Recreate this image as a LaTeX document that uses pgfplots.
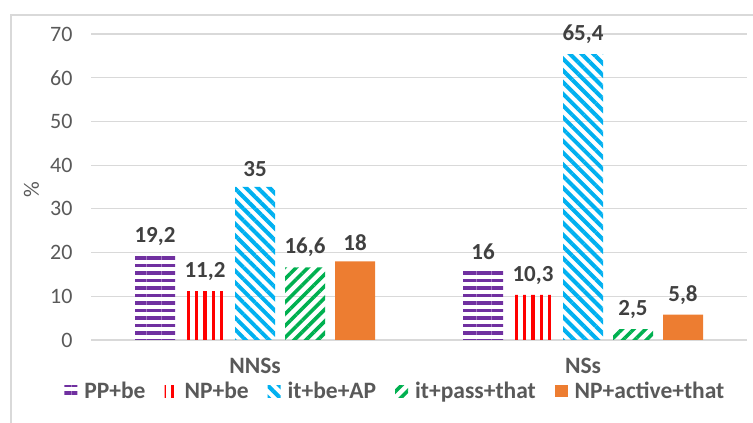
\documentclass[border=0pt]{standalone}
\usepackage{fontspec}
\setmainfont{Carlito}
\usepackage{pgfplots}
\pgfplotsset{compat=1.18}
\usetikzlibrary{patterns.meta}
\definecolor{ppurple}{HTML}{7030A0}
\definecolor{pred}{HTML}{FF0000}
\definecolor{pblue}{HTML}{00B0F0}
\definecolor{pgreen}{HTML}{00B050}
\definecolor{porange}{HTML}{ED7D31}
\definecolor{tickgray}{HTML}{595959}
\definecolor{labgray}{HTML}{404040}
\definecolor{gridgray}{HTML}{D9D9D9}
\begin{document}
\begin{tikzpicture}
\path[use as bounding box] (0,0) rectangle (753bp,423bp);
\draw[gridgray, line width=1.5bp] (11bp,-5bp) -- (11bp,408bp) -- (760bp,408bp);
\begin{axis}[
  at={(91bp,83bp)}, anchor=south west,
  width=656bp, height=306bp, scale only axis,
  ybar=10bp, bar width=40bp,
  xmin=-0.5, xmax=1.5, ymin=0, ymax=70,
  xtick=data, xticklabels={NNSs,NSs},
  ytick={0,10,...,70},
  ymajorgrids, grid style={draw=gridgray, line width=1.2bp},
  axis line style={draw=none}, major tick length=0pt,
  /pgf/number format/assume math mode=true,
  /pgf/number format/use comma,
  yticklabel style={font=\fontsize{22bp}{24bp}\selectfont, text=tickgray, xshift=-15bp},
  xticklabel style={font=\bfseries\fontsize{23.5bp}{26bp}\selectfont, text=tickgray, yshift=-15bp},
  ylabel={\%},
  ylabel style={at={(axis description cs:-0.0907,0.49)}, anchor=center,
    font=\fontsize{22bp}{24bp}\selectfont, text=tickgray},
  nodes near coords,
  nodes near coords style={font=\bfseries\fontsize{23bp}{25bp}\selectfont, text=labgray, yshift=7bp},
  legend style={at={(0.464,-0.167)}, anchor=center, draw=none, fill=none,
    legend columns=5, font=\bfseries\fontsize{23.5bp}{26bp}\selectfont, text=tickgray,
    /tikz/every even column/.append style={column sep=17bp}},
  legend image code/.code={\fill[#1] (0bp,-6bp) rectangle (13bp,6bp); \path (18bp,0bp);},
]
\addplot[draw=none, pattern={Lines[angle=0,distance=7.5bp,line width=3.3bp]}, pattern color=ppurple]
  coordinates {(0,19.2) (1,16)};
\addplot[draw=none, pattern={Lines[angle=90,distance=8.2bp,line width=3.3bp]}, pattern color=pred]
  coordinates {(0,11.2) (1,10.3)};
\addplot[draw=none, pattern={Lines[angle=-45,distance=8.3bp,line width=4bp]}, pattern color=pblue]
  coordinates {(0,35) (1,65.4)};
\addplot[draw=none, pattern={Lines[angle=45,distance=8.3bp,line width=3.6bp]}, pattern color=pgreen]
  coordinates {(0,16.6) (1,2.5)};
\addplot[draw=none, fill=porange]
  coordinates {(0,18) (1,5.8)};
\legend{PP+be, NP+be, it+be+AP, it+pass+that, NP+active+that}
\end{axis}
\end{tikzpicture}
\end{document}
